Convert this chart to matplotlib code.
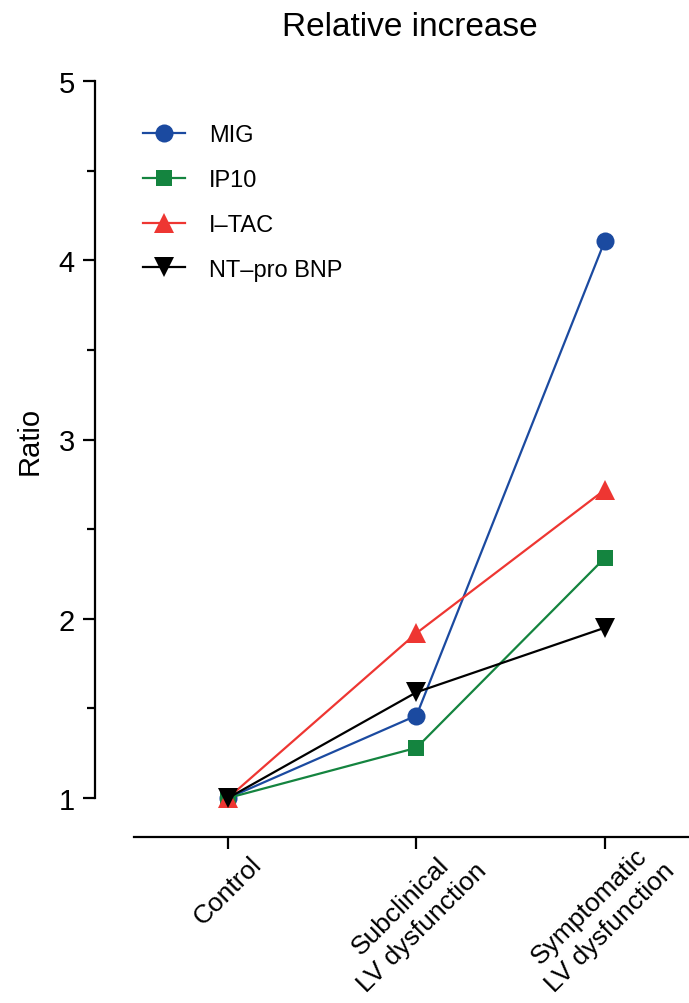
import matplotlib
matplotlib.use("Agg")
import matplotlib.pyplot as plt
from matplotlib.ticker import MultipleLocator
from matplotlib.transforms import ScaledTranslation

plt.rcParams['font.family'] = ['Liberation Sans', 'DejaVu Sans']

categories = ["Control", "Subclinical\nLV dysfunction", "Symptomatic\nLV dysfunction"]
mig = [1.0, 1.46, 4.11]
ip10 = [1.0, 1.28, 2.34]
itac = [1.0, 1.92, 2.72]
ntprobnp = [1.0, 1.59, 1.95]

series = [
    ("MIG", mig, "#1B4AA0", "o", 13),
    ("IP10", ip10, "#14843F", "s", 12),
    ("I\u2013TAC", itac, "#EE3632", "^", 14),
    ("NT\u2013pro BNP", ntprobnp, "#000000", "v", 14),
]

W, H = 689, 1004
fig = plt.figure(figsize=(W / 100, H / 100), dpi=100)
ax = fig.add_axes([95 / W, 1 - 799 / H, 594 / W, (799 - 82) / H])

x = list(range(len(categories)))
for name, vals, col, mk, ms in series:
    ax.plot(x, vals, color=col, marker=mk, markersize=ms, linewidth=1.6,
            label=name, clip_on=False, markeredgewidth=0)

ax.set_xlim(-0.706, 2.446)
ax.set_ylim(1, 5)
ax.yaxis.set_major_locator(MultipleLocator(1))
ax.yaxis.set_minor_locator(MultipleLocator(0.5))

for s in ['top', 'right']:
    ax.spines[s].set_visible(False)
ax.spines['left'].set_linewidth(1.6)
ax.spines['bottom'].set_linewidth(1.6)
ax.spines['bottom'].set_position(('outward', 28))
ax.spines['bottom'].set_bounds(-0.5, 2.7)

ax.tick_params(axis='y', which='major', length=8.5, width=1.6, labelsize=21, pad=6)
ax.tick_params(axis='y', which='minor', length=5.5, width=1.6)
ax.tick_params(axis='x', which='major', length=8.5, width=1.6, pad=2,
               labelsize=19, labelrotation=45)
ax.set_xticks(x)
ax.set_xticklabels(categories)
for lab in ax.get_xticklabels():
    lab.set_fontsize(19)
    lab.set_rotation(45)
    lab.set_ha('center')
    lab.set_multialignment('center')
    lab.set_linespacing(1.3)
    if "\n" in lab.get_text():
        lab.set_transform(lab.get_transform() + ScaledTranslation(-0.05, 0.15, fig.dpi_scale_trans))

ax.set_ylabel("Ratio", fontsize=21, labelpad=11)

fig.text(410 / W, 1 - 27 / H, "Relative increase", fontsize=24, ha='center', va='center')

leg = ax.legend(loc='upper left', bbox_to_anchor=(143 / W, 1 - 125 / H),
                bbox_transform=fig.transFigure, frameon=False, fontsize=17,
                borderpad=0, borderaxespad=0, handlelength=1.78, handletextpad=1.0,
                labelspacing=0.97)

fig.savefig("out.png", dpi=100)
